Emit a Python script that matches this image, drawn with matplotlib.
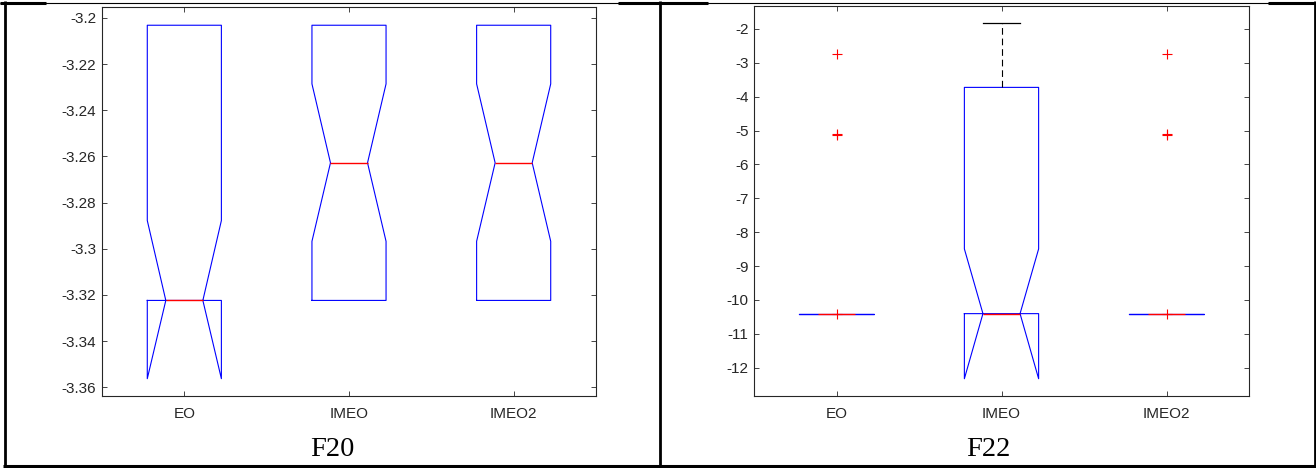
import matplotlib
matplotlib.use("Agg")
import matplotlib.pyplot as plt
from matplotlib.lines import Line2D

# Data
labels = ["EO", "IMEO", "IMEO2"]

# F20 panel
f20_q1 = [-3.3224, -3.3224, -3.3224]
f20_med = [-3.3224, -3.2628, -3.2628]
f20_q3 = [-3.2032, -3.2032, -3.2032]
f20_whislo = [-3.3224, -3.3224, -3.3224]
f20_whishi = [-3.2032, -3.2032, -3.2032]
f20_cilo = [-3.3563, -3.2968, -3.2968]
f20_cihi = [-3.2878, -3.2286, -3.2286]
f20_fliers = [[], [], []]
f20_ylim = (-3.3638, -3.1953)
f20_ticks = [-3.36, -3.34, -3.32, -3.3, -3.28, -3.26, -3.24, -3.22, -3.2]
f20_ticklabels = ["-3.36", "-3.34", "-3.32", "-3.3", "-3.28", "-3.26", "-3.24", "-3.22", "-3.2"]

# F22 panel
f22_q1 = [-10.4029, -10.4029, -10.4029]
f22_med = [-10.4029, -10.4029, -10.4029]
f22_q3 = [-10.4029, -3.7243, -10.4029]
f22_whislo = [-10.4029, -10.4029, -10.4029]
f22_whishi = [-10.4029, -1.8376, -10.4029]
f22_cilo = [-10.4029, -12.324, -10.4029]
f22_cihi = [-10.4029, -8.492, -10.4029]
f22_fliers = [[-2.7519, -5.0877, -5.1288, -10.4029], [], [-2.7519, -5.0877, -5.1288, -10.4029]]
f22_ylim = (-12.834, -1.322)
f22_ticks = [-12, -11, -10, -9, -8, -7, -6, -5, -4, -3, -2]
f22_ticklabels = ["-12", "-11", "-10", "-9", "-8", "-7", "-6", "-5", "-4", "-3", "-2"]

W, H = 1316, 468
AX_GRAY = (0.15, 0.15, 0.15)
BOX_W = 0.45


def draw_panel(ax, q1, med, q3, wlo, whi, cilo, cihi, fliers, ylim, ticks, ticklabels):
    stats = []
    for i in range(len(labels)):
        stats.append(dict(label=labels[i], q1=q1[i], med=med[i], q3=q3[i],
                          whislo=wlo[i], whishi=whi[i], cilo=cilo[i], cihi=cihi[i],
                          fliers=fliers[i]))
    res = ax.bxp(stats, positions=[1, 2, 3], widths=BOX_W, shownotches=True,
                 boxprops=dict(color=(0, 0, 1), linewidth=0.8),
                 medianprops=dict(color=(1, 0, 0), linewidth=1.0),
                 whiskerprops=dict(color="black", linewidth=0.8, linestyle=(0, (6, 3.5))),
                 capprops=dict(color="black", linewidth=0.9),
                 flierprops=dict(marker="+", markeredgecolor=(1, 0, 0), markersize=7,
                                 markeredgewidth=0.8, linestyle="none"))
    # hide zero-length whiskers and their caps
    for i, st in enumerate(stats):
        low = st["whislo"] < st["q1"]
        high = st["whishi"] > st["q3"]
        res["whiskers"][2 * i].set_visible(low)
        res["caps"][2 * i].set_visible(low)
        res["whiskers"][2 * i + 1].set_visible(high)
        res["caps"][2 * i + 1].set_visible(high)

    ax.set_xlim(0.5, 3.5)
    ax.set_ylim(*ylim)
    ax.set_yticks(ticks)
    ax.set_yticklabels(ticklabels)
    ax.set_xticks([1, 2, 3])
    ax.set_xticklabels(labels)
    for sp in ax.spines.values():
        sp.set_color(AX_GRAY)
        sp.set_linewidth(0.8)
    ax.tick_params(axis="both", direction="in", length=3.5, width=0.6, color=AX_GRAY,
                   labelcolor=AX_GRAY, labelsize=11, top=True, right=True)
    ax.tick_params(axis="x", pad=8)
    ax.tick_params(axis="y", pad=4)
    for lab in ax.get_xticklabels() + ax.get_yticklabels():
        lab.set_fontfamily("Liberation Sans")


fig = plt.figure(figsize=(W / 100, H / 100), dpi=100)

ax1 = fig.add_axes([102 / W, 72 / H, 494 / W, 389 / H])
draw_panel(ax1, f20_q1, f20_med, f20_q3, f20_whislo, f20_whishi, f20_cilo, f20_cihi,
           f20_fliers, f20_ylim, f20_ticks, f20_ticklabels)

ax2 = fig.add_axes([754 / W, 72 / H, 495 / W, 390 / H])
draw_panel(ax2, f22_q1, f22_med, f22_q3, f22_whislo, f22_whishi, f22_cilo, f22_cihi,
           f22_fliers, f22_ylim, f22_ticks, f22_ticklabels)

# captions under each chart
fig.text(332 / W, 1 - 449 / H, "F20", ha="center", va="center",
         fontfamily="Liberation Serif", fontsize=20.5, color="black")
fig.text(988 / W, 1 - 449 / H, "F22", ha="center", va="center",
         fontfamily="Liberation Serif", fontsize=20.5, color="black")


# table borders (pixel coords -> figure fraction)
def border(x0, y0, x1, y1, lw):
    fig.add_artist(Line2D([x0 / W, x1 / W], [1 - y0 / H, 1 - y1 / H],
                          transform=fig.transFigure, color="black", linewidth=lw,
                          solid_capstyle="butt"))


border(0, 2.5, W, 2.5, 0.8)
border(0, 2.5, 46, 2.5, 2.2)
border(618, 2.5, 708, 2.5, 2.2)
border(1268, 2.5, W, 2.5, 2.2)
border(4.5, 1, 4.5, 467, 2.0)
border(1314.5, 1, 1314.5, 467, 2.0)
border(660, 1, 660, 467, 2.0)
border(3, 465.5, 1316, 465.5, 2.2)

fig.savefig("out.png", dpi=100)
